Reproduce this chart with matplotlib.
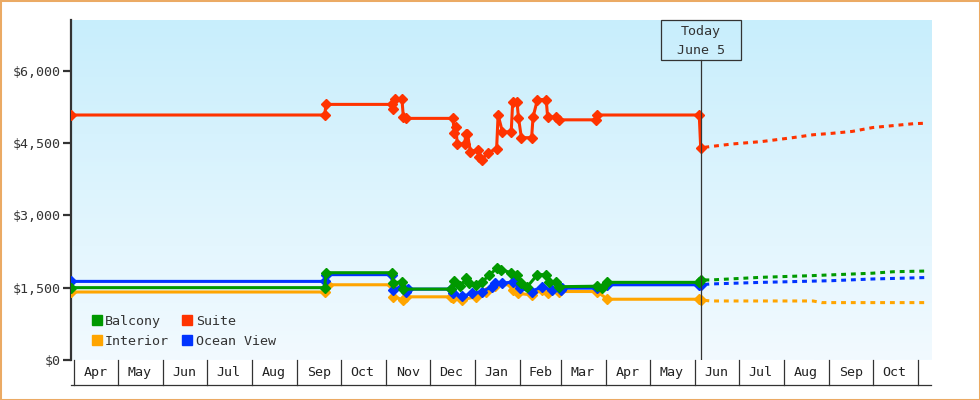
import matplotlib
matplotlib.use("Agg")
import matplotlib.pyplot as plt
import matplotlib.dates as mdates
import matplotlib.transforms as mtransforms
from matplotlib.patches import Patch, Rectangle
from matplotlib.ticker import FuncFormatter
import numpy as np
import pandas as pd

plt.rcParams['font.family'] = ['DejaVu Sans Mono']

# observed prices
balcony_dates = ["2024-03-30", "2024-09-20", "2024-09-21", "2024-11-05", "2024-11-06",
                 "2024-11-12", "2024-11-13", "2024-12-16", "2024-12-18", "2024-12-22",
                 "2024-12-26", "2024-12-28", "2025-01-02", "2025-01-06", "2025-01-11",
                 "2025-01-16", "2025-01-19", "2025-01-26", "2025-01-30", "2025-02-02",
                 "2025-02-06", "2025-02-13", "2025-02-19", "2025-02-21", "2025-02-26",
                 "2025-02-28", "2025-03-26", "2025-03-29", "2025-04-02", "2025-06-04",
                 "2025-06-05"]
balcony_prices = [1500, 1500, 1810, 1810, 1600, 1620, 1470, 1470, 1640, 1530,
                  1690, 1590, 1560, 1620, 1760, 1900, 1870, 1810, 1770, 1600,
                  1520, 1770, 1770, 1620, 1620, 1520, 1530, 1490, 1610, 1610,
                  1660]

suite_dates = ["2024-03-30", "2024-09-20", "2024-09-21", "2024-11-05", "2024-11-06",
               "2024-11-07", "2024-11-12", "2024-11-13", "2024-11-15", "2024-12-17",
               "2024-12-18", "2024-12-19", "2024-12-20", "2024-12-25", "2024-12-26",
               "2024-12-27", "2024-12-29", "2025-01-03", "2025-01-04", "2025-01-06",
               "2025-01-10", "2025-01-16", "2025-01-17", "2025-01-20", "2025-01-26",
               "2025-01-27", "2025-01-30", "2025-01-31", "2025-02-02", "2025-02-09",
               "2025-02-10", "2025-02-13", "2025-02-19", "2025-02-20", "2025-02-26",
               "2025-02-28", "2025-03-25", "2025-03-26", "2025-06-04", "2025-06-05"]
suite_prices = [5080, 5080, 5300, 5300, 5200, 5420, 5420, 5040, 5010, 5010,
                4710, 4830, 4480, 4480, 4690, 4690, 4320, 4360, 4210, 4150,
                4300, 4380, 5080, 4730, 4730, 5340, 5340, 5020, 4610, 4610,
                5040, 5400, 5400, 5040, 5040, 4980, 4980, 5080, 5080, 4400]

interior_dates = ["2024-03-30", "2024-09-20", "2024-09-22", "2024-11-05", "2024-11-06",
                  "2024-11-13", "2024-11-15", "2024-12-16", "2024-12-17", "2024-12-23",
                  "2025-01-02", "2025-01-09", "2025-01-15", "2025-01-26", "2025-01-27",
                  "2025-01-31", "2025-02-09", "2025-02-16", "2025-02-20", "2025-02-28",
                  "2025-03-26", "2025-04-02", "2025-06-04", "2025-06-05"]
interior_prices = [1410, 1410, 1560, 1560, 1310, 1250, 1310, 1310, 1280, 1250,
                   1310, 1400, 1540, 1570, 1450, 1380, 1350, 1450, 1380, 1420,
                   1420, 1260, 1260, 1245]

ocean_dates = ["2024-03-30", "2024-09-20", "2024-09-21", "2024-11-05", "2024-11-06",
               "2024-11-12", "2024-11-15", "2024-11-16", "2024-12-16", "2024-12-17",
               "2024-12-23", "2024-12-30", "2025-01-06", "2025-01-13", "2025-01-15",
               "2025-01-20", "2025-01-27", "2025-01-30", "2025-02-01", "2025-02-09",
               "2025-02-16", "2025-02-23", "2025-03-01", "2025-03-02", "2025-03-26",
               "2025-04-02", "2025-06-04", "2025-06-05"]
ocean_prices = [1630, 1630, 1770, 1770, 1450, 1520, 1400, 1470, 1470, 1380,
                1320, 1380, 1420, 1520, 1590, 1590, 1620, 1620, 1490, 1420,
                1520, 1450, 1460, 1490, 1490, 1560, 1560, 1560]

# forecasts from today
suite_fc_dates = ["2025-06-05", "2025-06-12", "2025-06-27", "2025-07-17", "2025-08-07",
                  "2025-08-21", "2025-09-03", "2025-09-17", "2025-10-01", "2025-10-15",
                  "2025-10-29", "2025-11-07"]
suite_fc_prices = [4400, 4427, 4480, 4530, 4610, 4670, 4700, 4740, 4820, 4860, 4900, 4910]

balcony_fc_dates = ["2025-06-05", "2025-06-12", "2025-07-17", "2025-08-21", "2025-10-01",
                    "2025-10-15", "2025-11-07"]
balcony_fc_prices = [1660, 1660, 1715, 1750, 1800, 1830, 1845]

ocean_fc_dates = ["2025-06-05", "2025-06-12", "2025-07-17", "2025-09-03", "2025-10-01",
                  "2025-11-07"]
ocean_fc_prices = [1560, 1577, 1610, 1645, 1680, 1710]

interior_fc_dates = ["2025-06-05", "2025-06-12", "2025-08-21", "2025-08-27", "2025-11-07"]
interior_fc_prices = [1245, 1224, 1224, 1190, 1190]

month_labels = ["Apr", "May", "Jun", "Jul", "Aug", "Sep", "Oct", "Nov", "Dec", "Jan",
                "Feb", "Mar", "Apr", "May", "Jun", "Jul", "Aug", "Sep", "Oct"]
y_ticks = [0, 1500, 3000, 4500, 6000]
today = "2025-06-05"

GREEN = "#009900"
RED = "#FF3300"
ORANGE = "#FFA500"
BLUE = "#0033FF"
INK = "#333333"


def d(lst):
    return np.array(lst, dtype="datetime64[D]")


fig = plt.figure(figsize=(9.8, 4.0), dpi=100)
fig.patch.set_facecolor("white")
L, R, B, T = 71 / 980, 931 / 980, 40 / 400, 380 / 400
ax = fig.add_axes([L, B, R - L, T - B])

x0 = np.datetime64("2024-03-30")
x1 = np.datetime64("2025-11-10")
ax.set_xlim(x0, x1)
ax.set_ylim(0, 7050)

# gradient background
grad = np.linspace(0, 1, 256).reshape(-1, 1)
top = np.array([200, 238, 252]) / 255
bot = np.array([242, 250, 255]) / 255
img = top + (bot - top) * grad[:, :, None]
ax.imshow(img, extent=[0, 1, 0, 1], transform=ax.transAxes, aspect="auto", zorder=0)

series = [
    (suite_dates, suite_prices, suite_fc_dates, suite_fc_prices, RED),
    (interior_dates, interior_prices, interior_fc_dates, interior_fc_prices, ORANGE),
    (ocean_dates, ocean_prices, ocean_fc_dates, ocean_fc_prices, BLUE),
    (balcony_dates, balcony_prices, balcony_fc_dates, balcony_fc_prices, GREEN),
]
for i, (ds, ps, fds, fps, c) in enumerate(series):
    ax.plot(d(fds), fps, color=c, lw=2.2, ls=(2, (1.6, 1.6)), zorder=2 + i)
    ax.plot(d(ds), ps, color=c, lw=2.2, marker="D", ms=5.2, mew=1, zorder=6 + i)

for s in ["top", "right", "bottom"]:
    ax.spines[s].set_visible(False)
ax.spines["left"].set_linewidth(1.6)
ax.spines["left"].set_color(INK)
ax.set_xticks([])
ax.set_yticks(y_ticks)
ax.yaxis.set_major_formatter(FuncFormatter(lambda v, p: f"${v:,.0f}"))
ax.tick_params(axis="y", length=5.5, width=1.6, color=INK, labelcolor=INK,
               labelsize=9.6, pad=2)

# today marker
t = mdates.date2num(np.datetime64(today))
box_h = 40 / 340
ax.axvline(t, ymin=0, ymax=1 - box_h, color=INK, lw=0.9, zorder=12)
fig.canvas.draw()
tx = ax.transData.transform((t, 0))[0]
ident = mtransforms.IdentityTransform()
fig.add_artist(Rectangle((tx - 40, 400 - 60), 80, 40, transform=ident,
                         fill=False, ec=INK, lw=0.9))
fig.text(tx, 400 - 32, "Today", transform=ident, ha="center", va="center",
         fontsize=9.6, color=INK)
fig.text(tx, 400 - 50, "June 5", transform=ident, ha="center", va="center",
         fontsize=9.6, color=INK)

# legend
handles = [Patch(color=GREEN, label="Balcony"), Patch(color=ORANGE, label="Interior"),
           Patch(color=RED, label="Suite"), Patch(color=BLUE, label="Ocean View")]
ax.legend(handles=handles, ncol=2, loc="upper left", bbox_to_anchor=(0.018, 0.149),
          frameon=False, fontsize=9.6, handlelength=0.75, handleheight=0.75,
          handletextpad=0.25, columnspacing=1.0, labelspacing=0.55,
          borderaxespad=0, labelcolor=INK)

# month boxes under the plot
axm = fig.add_axes([L, 15 / 400, R - L, 25 / 400])
axm.set_xlim(x0, x1)
axm.set_ylim(0, 1)
axm.axis("off")
bounds = pd.date_range("2024-04-01", "2025-11-01", freq="MS").values.astype("datetime64[D]")
for b in bounds:
    axm.plot([b, b], [0, 1], color=INK, lw=0.9, clip_on=False)
axm.plot([x0, x1], [0, 0], color=INK, lw=0.9, clip_on=False)
for lab, a, b in zip(month_labels, bounds[:-1], bounds[1:]):
    mid = a + (b - a) / 2
    axm.text(mid, 0.5, lab, ha="center", va="center", fontsize=9.6, color="#222222")

fig.add_artist(Rectangle((0, 0), 1, 1, transform=fig.transFigure, fill=False,
                         ec="#EBAA64", lw=2.2))

fig.savefig("out.png", dpi=100)
